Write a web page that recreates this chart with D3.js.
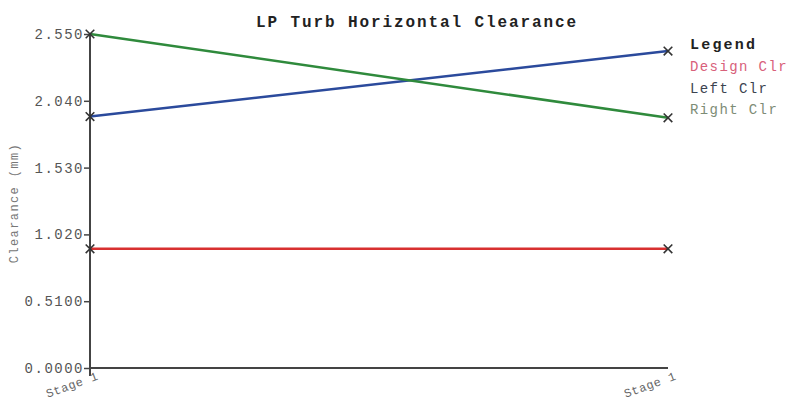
<!DOCTYPE html>
<html><head><meta charset="utf-8">
<script src="https://cdn.jsdelivr.net/npm/d3@7"></script>
<style>
html,body{margin:0;padding:0;background:#fff;}
text{font-family:"Liberation Mono","DejaVu Sans Mono",monospace;}
</style></head>
<body>
<svg id="chart" width="790" height="402"></svg>
<script>
const categories = ["Stage 1", "Stage 1"];
const designClr = [0.91, 0.91];
const leftClr = [1.92, 2.42];
const rightClr = [2.55, 1.91];
const yTickValues = [0, 0.51, 1.02, 1.53, 2.04, 2.55];
const yTickLabels = ["0.0000", "0.5100", "1.020", "1.530", "2.040", "2.550"];
const seriesNames = ["Design Clr", "Left Clr", "Right Clr"];
const lineColors = ["#d83030", "#2b4a9c", "#2f8a3c"];
const legendColors = ["#d8607a", "#3c4350", "#7d8c76"];

const series = [designClr, leftClr, rightClr];
const svg = d3.select("#chart");
const m = {left: 90, top: 34, right: 668, bottom: 368};

const x = d3.scalePoint().domain(d3.range(categories.length)).range([m.left, m.right]);
const y = d3.scaleLinear().domain([0, 2.55]).range([m.bottom, m.top]);

// title
svg.append("text").attr("x", 417).attr("y", 27).attr("text-anchor", "middle")
  .attr("font-size", 16).attr("font-weight", "bold").attr("fill", "#222")
  .attr("letter-spacing", 1.9)
  .text("LP Turb Horizontal Clearance");

// y axis
const yAxis = d3.axisLeft(y).tickValues(yTickValues)
  .tickFormat((d, i) => yTickLabels[i]).tickSize(6).tickPadding(0);
const gy = svg.append("g").attr("transform", `translate(${m.left},0)`).call(yAxis);
gy.select(".domain").attr("stroke", "#444").attr("stroke-width", 2)
  .attr("d", `M0,${m.top}V${m.bottom + 8}`);
gy.selectAll(".tick line").attr("stroke", "#444").attr("stroke-width", 1.5);
gy.selectAll(".tick text").attr("font-size", 14).attr("fill", "#555")
  .attr("letter-spacing", 1.5)
  .attr("font-family", "Liberation Mono, monospace");

// x axis
const xAxis = d3.axisBottom(x).tickFormat(i => categories[i]).tickSize(0).tickPadding(4);
const gx = svg.append("g").attr("transform", `translate(0,${m.bottom})`).call(xAxis);
gx.select(".domain").attr("stroke", "#444").attr("stroke-width", 2)
  .attr("d", `M${m.left},0H${m.right}`);
gx.selectAll(".tick text").attr("font-size", 12).attr("fill", "#666")
  .attr("letter-spacing", 0.6)
  .attr("font-family", "Liberation Mono, monospace")
  .attr("text-anchor", "end").attr("dy", "0.3em")
  .attr("transform", "translate(6,4) rotate(-20)");

// y label
svg.append("text").attr("transform", "translate(18,203) rotate(-90)")
  .attr("text-anchor", "middle").attr("font-size", 12).attr("fill", "#777")
  .attr("letter-spacing", 1.4)
  .text("Clearance (mm)");

// lines
const line = d3.line().x((d, i) => x(i)).y(d => y(d));
series.forEach((s, k) => {
  svg.append("path").datum(s).attr("d", line).attr("fill", "none")
    .attr("stroke", lineColors[k]).attr("stroke-width", 2.5);
});
// markers
const sym = d3.symbol().type(d3.symbolX).size(50);
series.forEach((s, k) => {
  svg.selectAll(null).data(s).enter().append("path")
    .attr("d", sym).attr("transform", (d, i) => `translate(${x(i)},${y(d)})`)
    .attr("fill", "none").attr("stroke", "#333").attr("stroke-width", 1.6);
});

// legend
svg.append("text").attr("x", 690).attr("y", 49).attr("font-size", 15)
  .attr("font-weight", "bold").attr("fill", "#222").attr("letter-spacing", 2.2).text("Legend");
seriesNames.forEach((n, k) => {
  svg.append("text").attr("x", 690).attr("y", 71 + k * 21.5).attr("font-size", 14)
    .attr("letter-spacing", 1.4)
    .attr("fill", legendColors[k]).text(n);
});
</script>
</body></html>
